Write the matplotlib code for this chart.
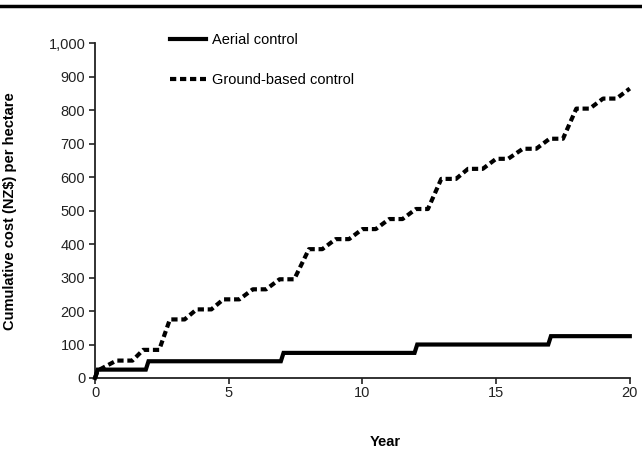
import matplotlib.pyplot as plt
from matplotlib.lines import Line2D

plt.rcParams['font.family'] = ['Liberation Sans', 'DejaVu Sans']

# ---------- data ----------
aerial_year = [0, 0.1, 1.9, 2.0, 6.95, 7.05, 11.95, 12.05, 16.95, 17.05, 20]
aerial_cost = [0, 25, 25, 50, 50, 75, 75, 100, 100, 125, 125]

ground_year = [0, 0.1, 0.4, 0.8, 1.4, 1.8, 2.4, 2.8, 3.35, 3.8, 4.35, 4.8, 5.4,
               5.9, 6.4, 6.9, 7.45, 8.0, 8.5, 9.0, 9.5, 10.0, 10.5, 11.0, 11.5,
               12.0, 12.45, 12.95, 13.5, 13.95, 14.5, 15.0, 15.45, 16.0, 16.5,
               17.0, 17.5, 18.0, 18.5, 19.0, 19.5, 20.0]
ground_cost = [0, 22, 35, 52, 52, 84, 84, 175, 175, 205, 205, 235, 235,
               265, 265, 295, 295, 385, 385, 415, 415, 445, 445, 475, 475,
               505, 505, 595, 595, 625, 625, 655, 655, 685, 685,
               715, 715, 805, 805, 835, 835, 865]

x_ticks = [0, 5, 10, 15, 20]
y_ticks = [0, 100, 200, 300, 400, 500, 600, 700, 800, 900, 1000]
y_tick_labels = ['0', '100', '200', '300', '400', '500', '600', '700', '800', '900', '1,000']

# ---------- figure ----------
fig = plt.figure(figsize=(6.42, 4.59), dpi=100)
ax = fig.add_axes([0.148, 0.1765, 0.833, 0.729])

ax.plot(aerial_year, aerial_cost, color='black', lw=3, solid_joinstyle='miter',
        label='Aerial control', clip_on=False, zorder=3)
ax.plot(ground_year, ground_cost, color='black', lw=3, linestyle=(0, (1.5, 0.9)),
        label='Ground-based control', clip_on=False, zorder=3)

ax.set_xlim(0, 20)
ax.set_ylim(0, 1000)
ax.set_xticks(x_ticks)
ax.set_yticks(y_ticks)
ax.set_yticklabels(y_tick_labels)

for s in ['top', 'right']:
    ax.spines[s].set_visible(False)
for s in ['left', 'bottom']:
    ax.spines[s].set_linewidth(1.3)
    ax.spines[s].set_color('#222222')
ax.tick_params(axis='both', direction='out', length=4, width=1.2,
               labelsize=10.5, colors='#222222', pad=3)
ax.tick_params(axis='x', pad=2)

ax.set_ylabel('Cumulative cost (NZ$) per hectare', fontsize=10.5, weight='bold')
ax.yaxis.set_label_coords(-0.146, 0.5)
ax.set_xlabel('Year', fontsize=10.5, weight='bold')
ax.xaxis.set_label_coords(0.542, -0.17)

ax.legend(loc='upper left', bbox_to_anchor=(0.14, 1.03), frameon=False,
          fontsize=10.5, handlelength=2.5, handletextpad=0.4,
          labelspacing=1.75, borderpad=0, borderaxespad=0)

# thick rule across the top
fig.add_artist(Line2D([0, 1], [0.988, 0.988], transform=fig.transFigure,
                      color='black', lw=2.5))

fig.savefig('out.png', dpi=100)
